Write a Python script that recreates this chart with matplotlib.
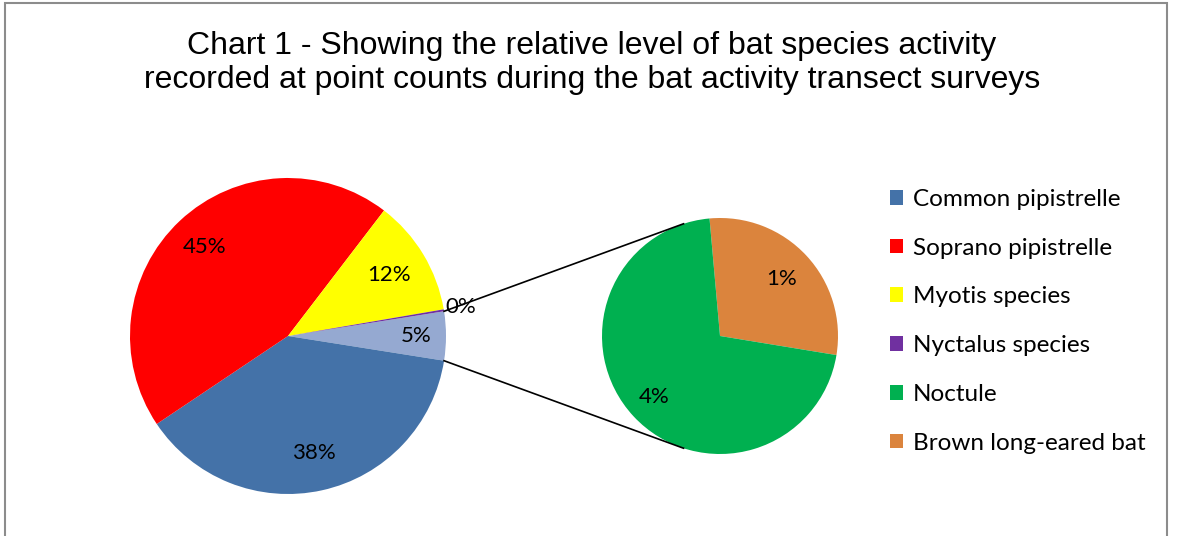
import numpy as np
import matplotlib.pyplot as plt
from matplotlib.patches import Rectangle

# Share of bat passes recorded at point counts (%)
MAIN_LABELS = ['Other', 'Common pipistrelle', 'Soprano pipistrelle', 'Myotis species', 'Nyctalus species']
MAIN_VALUES = [5.0, 38.1, 44.8, 11.9, 0.2]
SUB_LABELS = ['Brown long-eared bat', 'Noctule']
SUB_VALUES = [1.45, 3.55]

MAIN_COLORS = ['#95A9D1', '#4472A8', '#FF0000', '#FFFF00', '#7030A0']
SUB_COLORS = ['#DB843D', '#00B050']

W, H = 1177, 536
fig = plt.figure(figsize=(W / 100, H / 100), dpi=100)
ax = fig.add_axes([0, 0, 1, 1])

# outer chart frame
fig.patches.append(Rectangle((5 / W, -0.05), 1162 / W, 1.05 - 3 / H, transform=fig.transFigure,
                             fill=False, edgecolor='#8c8c8c', linewidth=1.5))

main_c, main_r = (288, 200), 158
sub_c, sub_r = (720, 200), 118

# the combined slice sits centred on the right-hand side
start = MAIN_VALUES[0] / 100 * 360 / 2
wedges, _ = ax.pie(MAIN_VALUES, colors=MAIN_COLORS, startangle=start, counterclock=False,
                   center=main_c, radius=main_r, frame=True)
sub_wedges, _ = ax.pie(SUB_VALUES, colors=SUB_COLORS, startangle=95.1, counterclock=False,
                       center=sub_c, radius=sub_r, frame=True)
ax.set_xlim(0, W)
ax.set_ylim(0, H)
ax.set_aspect('equal')
ax.axis('off')

lab_font = dict(family=['Lato', 'DejaVu Sans'], fontsize=16, color='black')


def put_labels(wedge_list, c, r, dists, shown):
    for w, d, s in zip(wedge_list, dists, shown):
        mid = np.deg2rad((w.theta1 + w.theta2) / 2)
        ax.text(c[0] + d * r * np.cos(mid), c[1] + d * r * np.sin(mid), f'{s:.0f}%',
                ha='center', va='center', **lab_font)


put_labels(wedges, main_c, main_r, [0.81, 0.76, 0.77, 0.75, 1.11],
           [round(v) for v in MAIN_VALUES])
put_labels(sub_wedges, sub_c, sub_r, [0.71, 0.76],
           [round(v) for v in SUB_VALUES])

# connector lines from the combined slice to the secondary pie
a0 = np.deg2rad(start)
for sgn in (1, -1):
    p0 = (main_c[0] + main_r * np.cos(sgn * a0), main_c[1] + main_r * np.sin(sgn * a0))
    a1 = np.deg2rad(sgn * 108)
    p1 = (sub_c[0] + sub_r * np.cos(a1), sub_c[1] + sub_r * np.sin(a1))
    ax.plot([p0[0], p1[0]], [p0[1], p1[1]], color='black', linewidth=1.2)

fig.text(592 / W, 1 - 63 / H,
         'Chart 1 - Showing the relative level of bat species activity\n'
         'recorded at point counts during the bat activity transect surveys',
         ha='center', va='center', fontsize=23, family='Liberation Sans', linespacing=1.2)

handles = [wedges[1], wedges[2], wedges[3], wedges[4], sub_wedges[1], sub_wedges[0]]
names = ['Common pipistrelle', 'Soprano pipistrelle', 'Myotis species',
         'Nyctalus species', 'Noctule', 'Brown long-eared bat']
fig.legend(handles, names, loc='upper left', bbox_to_anchor=(890 / W, 1 - 189 / H),
           frameon=False, prop={'family': ['Lato', 'DejaVu Sans'], 'size': 17.5},
           handlelength=0.55, handleheight=0.55, handletextpad=0.4, labelspacing=1.14,
           borderaxespad=0, borderpad=0)

fig.savefig('out.png', dpi=100)
